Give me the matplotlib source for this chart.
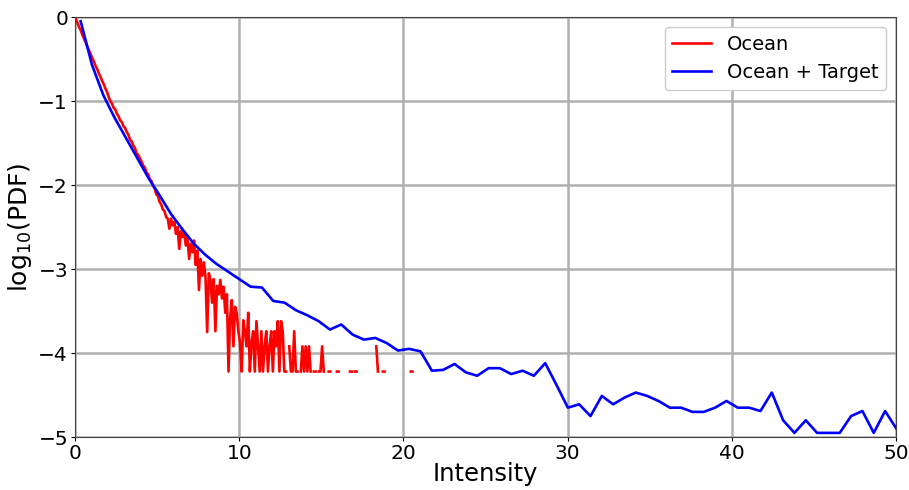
import numpy as np
import matplotlib
matplotlib.use("Agg")
import matplotlib.pyplot as plt

# ---- data ----
nan = np.nan
# "Ocean" : fine bins (width 0.1), log10(PDF); nan = empty bin
ocean_bin_width = 0.1
ocean_logpdf = [
    -0.02, -0.07, -0.12, -0.16, -0.21, -0.26, -0.30, -0.35, -0.40, -0.44,
    -0.49, -0.53, -0.58, -0.62, -0.67, -0.71, -0.76, -0.80, -0.85, -0.89,
    -0.95, -1.00, -1.03, -1.08, -1.10, -1.15, -1.18, -1.23, -1.25, -1.30,
    -1.32, -1.37, -1.40, -1.46, -1.48, -1.53, -1.56, -1.62, -1.64, -1.68,
    -1.72, -1.77, -1.79, -1.85, -1.87, -1.93, -1.95, -2.01, -2.04, -2.11,
    -2.13, -2.20, -2.23, -2.29, -2.31, -2.38, -2.40,
    -2.52, -2.40, -2.48, -2.44, -2.58, -2.50, -2.76, -2.55, -2.62, -2.56,
    -2.72, -2.62, -2.88, -2.70, -2.80, -2.66, -2.95, -2.78, -3.25, -2.88,
    -3.08, -2.92, -3.10, -3.75, -3.05, -3.13, -3.40, -3.12, -3.74, -3.20,
    -3.30, -3.13, -3.35, -3.21, -3.52, -3.30, -4.22, -3.57, -3.37, -3.92,
    -3.45, -3.53, -3.74, -3.88, -4.22, -3.61, -3.74, -3.92, -3.52, -4.22,
    -3.88, -3.74, -4.22, -3.62, -3.92, -4.22, -3.74, -4.22, -3.92, -3.74,
    -4.22, -3.92, -3.74, -4.22, -3.74, -3.92, -3.62, -4.22, -3.62, -3.74,
    -4.22, -4.22, nan, -3.92, -4.22, -4.22, -3.74, -4.22, -4.22, nan,
    -4.22, -3.92, -4.22, -3.92, -4.22, -3.92, -4.22, nan, -4.22, -4.22,
    nan, -4.22, -4.22, -3.92, -4.22, nan, nan, -4.22, -4.22, nan,
    nan, nan, -4.22, -4.22, nan, nan, nan, nan, nan, nan,
    -4.22, -4.22, nan, -4.22, -4.22, nan, nan, nan, nan, nan,
    nan, nan, nan, nan, nan, nan, -3.92, -4.22, nan, nan,
    -4.22, -4.22, nan, nan, nan, nan, nan, nan, nan, nan,
    nan, nan, nan, nan, nan, nan, nan, -4.22, -4.22, nan,
]

# "Ocean + Target" : coarse bins (width 0.69), log10(PDF)
target_bin_width = 0.69
target_logpdf = [
    -0.05, -0.57, -0.93, -1.20, -1.44, -1.68, -1.92, -2.13, -2.35, -2.53,
    -2.70, -2.83, -2.94, -3.03, -3.12, -3.21, -3.22, -3.38, -3.40, -3.49,
    -3.55, -3.62, -3.72, -3.66, -3.78, -3.84, -3.82, -3.88, -3.97, -3.95,
    -3.98, -4.21, -4.20, -4.13, -4.23, -4.27, -4.18, -4.18, -4.25, -4.21,
    -4.27, -4.12, -4.38, -4.65, -4.61, -4.75, -4.51, -4.61, -4.53, -4.47,
    -4.51, -4.57, -4.65, -4.65, -4.70, -4.70, -4.65, -4.57, -4.65, -4.65,
    -4.69, -4.47, -4.80, -4.95, -4.80, -4.95, -4.95, -4.95, -4.75, -4.69,
    -4.95, -4.69, -4.90,
]

series_labels = ["Ocean", "Ocean + Target"]
x_ticks = [0, 10, 20, 30, 40, 50]
y_ticks = [-5, -4, -3, -2, -1, 0]

ocean_x = (np.arange(len(ocean_logpdf)) + 0.5) * ocean_bin_width
target_x = (np.arange(len(target_logpdf)) + 0.5) * target_bin_width

# ---- plot ----
fig = plt.figure(figsize=(9.09, 4.90), dpi=100)
ax = fig.add_axes([0.0825, 0.108, 0.9032, 0.8573])

ax.plot(ocean_x, ocean_logpdf, color="red", lw=1.9, label=series_labels[0])
ax.plot(target_x, target_logpdf, color="blue", lw=1.9, label=series_labels[1])

ax.set_xlim(0, 50)
ax.set_ylim(-5, 0)
ax.set_xticks(x_ticks)
ax.set_yticks(y_ticks)
ax.grid(True, color="#b0b0b0", lw=1.8)
ax.set_axisbelow(True)
ax.tick_params(labelsize=14.5, length=3, pad=2)
for s in ax.spines.values():
    s.set_color("#444444")

ax.set_xlabel("Intensity", fontsize=17.5, labelpad=-1)
ax.set_ylabel(r"log$_{10}$(PDF)", fontsize=18, labelpad=3)
ax.legend(loc="upper right", fontsize=14, framealpha=1.0, edgecolor="#cccccc")

fig.savefig("out.png", dpi=100)
